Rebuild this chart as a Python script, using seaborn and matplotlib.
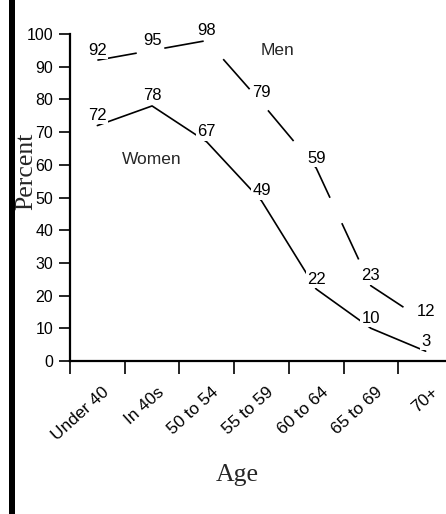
import numpy as np
import pandas as pd
import matplotlib
matplotlib.use("Agg")
import matplotlib.pyplot as plt
import seaborn as sns
from matplotlib.patches import Rectangle

ages = ["Under 40", "In 40s", "50 to 54", "55 to 59", "60 to 64", "65 to 69", "70+"]
men = [92, 95, 98, 79, 59, 23, 12]
women = [72, 78, 67, 49, 22, 10, 3]
y_ticks = [0, 10, 20, 30, 40, 50, 60, 70, 80, 90, 100]

sns.set_style("white")
plt.rcParams["font.family"] = ["Liberation Sans", "DejaVu Sans"]

pos = np.arange(len(ages))
df = pd.DataFrame({
    "pos": np.concatenate([pos, pos]),
    "Percent": men + women,
    "Sex": ["Men"] * len(men) + ["Women"] * len(women),
})

fig = plt.figure(figsize=(4.46, 5.14), dpi=100)
fig.patch.set_facecolor("white")
ax = fig.add_axes([70 / 446, 1 - 361 / 514, 383 / 446, 327 / 514])
ax.set_facecolor("white")

sns.lineplot(data=df, x="pos", y="Percent", hue="Sex", style="Sex",
             palette={"Men": "black", "Women": "black"},
             dashes={"Men": (24, 16.8), "Women": ""},
             linewidth=1.2, legend=False, ax=ax, clip_on=False)

for x, v in zip(pos, men):
    ax.annotate(str(v), (x, v), xytext=(0, 7.2), textcoords="offset points",
                ha="center", va="center", fontsize=12, color="black",
                bbox=dict(fc="white", ec="none", pad=1.0), annotation_clip=False)
for x, v in zip(pos, women):
    ax.annotate(str(v), (x, v), xytext=(0, 7.2), textcoords="offset points",
                ha="center", va="center", fontsize=12, color="black",
                bbox=dict(fc="white", ec="none", pad=1.0), annotation_clip=False)

ax.text(3.3, 95, "Men", ha="center", va="center", fontsize=12.5)
ax.text(1.0, 61.5, "Women", ha="center", va="center", fontsize=12.5)

ax.set_xlim(-0.5, len(ages) - 0.5)
ax.set_ylim(0, 100)
ax.set_yticks(y_ticks)
ax.set_xticks(np.arange(len(ages) + 1) - 0.5)
ax.set_xticklabels([])
ax.set_xticks(pos + 0.18, minor=True)
ax.set_xticklabels(ages, minor=True, rotation=42, ha="right", va="center",
                   rotation_mode="anchor", fontsize=12.4)

ax.tick_params(axis="y", which="major", direction="out", length=8, width=1.2,
               left=True, pad=4, labelsize=11.5, colors="black")
ax.tick_params(axis="x", which="major", direction="out", length=9, width=1.2,
               bottom=True, colors="black")
ax.tick_params(axis="x", which="minor", length=0, pad=21, colors="black")

for s in ["top", "right"]:
    ax.spines[s].set_visible(False)
ax.spines["left"].set_linewidth(1.6)
ax.spines["bottom"].set_linewidth(1.6)
ax.spines["left"].set_color("black")
ax.spines["bottom"].set_color("black")

ax.set_ylabel("")
ax.set_xlabel("")
fig.text(26 / 446, 1 - 171 / 514, "Percent", rotation=90, ha="center", va="center",
         fontsize=18.5, family=["Liberation Serif", "DejaVu Serif"])
fig.text(237 / 446, 1 - 475 / 514, "Age", ha="center", va="center",
         fontsize=18.5, family=["Liberation Serif", "DejaVu Serif"])

fig.patches.append(Rectangle((9 / 446, 0), 6 / 446, 1, transform=fig.transFigure,
                             facecolor="black", edgecolor="none", zorder=10))

fig.savefig("out.png", dpi=100, facecolor="white")
